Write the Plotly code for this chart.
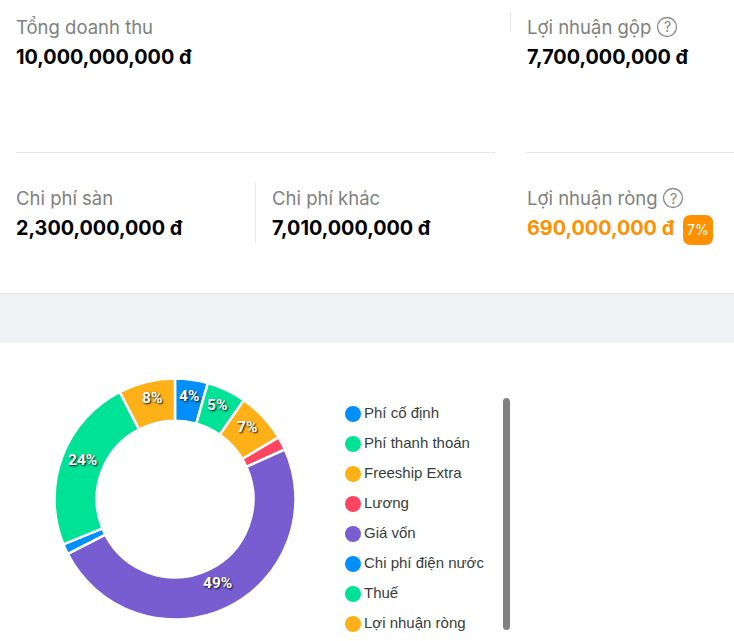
import math
import plotly.graph_objects as go

W, H = 734, 641

categories = ["Phí cố định", "Phí thanh thoán", "Freeship Extra", "Lương", "Giá vốn",
              "Chi phí điện nước", "Thuế", "Lợi nhuận ròng"]
values = [4.4, 5.3, 6.8, 1.8, 49.3, 1.4, 23.6, 7.6]
slice_labels = ["4%", "5%", "7%", "", "49%", "", "24%", "8%"]
colors = ["#008FFB", "#00E396", "#FEB019", "#FF4560", "#775DD0", "#008FFB", "#00E396", "#FEB019"]

kpi_titles = ["Tổng doanh thu", "Lợi nhuận gộp", "Chi phí sàn", "Chi phí khác", "Lợi nhuận ròng"]
kpi_values = ["10,000,000,000 đ", "7,700,000,000 đ", "2,300,000,000 đ", "7,010,000,000 đ", "690,000,000 đ"]
kpi_colors = ["#000000", "#000000", "#000000", "#000000", "#FF9100"]
kpi_x = [14, 525, 14, 270, 525]
kpi_title_y = [27, 27, 198, 198, 198]
kpi_value_y = [57, 57, 228, 228, 228]


def px(x):
    return x / W


def py(y):
    return 1 - y / H


def rounded(x0, y0, x1, y1, r):
    a, b, c, d = px(x0), py(y0), px(x1), py(y1)
    rx, ry = r / W, r / H
    return (f"M {a+rx} {b} L {c-rx} {b} Q {c} {b} {c} {b-ry} L {c} {d+ry} Q {c} {d} {c-rx} {d} "
            f"L {a+rx} {d} Q {a} {d} {a} {d+ry} L {a} {b-ry} Q {a} {b} {a+rx} {b} Z")


fig = go.Figure()

fig.add_trace(go.Pie(
    labels=categories, values=values, textinfo="none", sort=False,
    direction="clockwise", rotation=0, hole=0.65,
    marker=dict(colors=colors, line=dict(color="white", width=2.5)),
    domain=dict(x=[px(54.5), px(295.5)], y=[py(619.5), py(378.5)]),
    showlegend=False, hoverinfo="label+percent",
))

fig.add_trace(go.Scatter(
    x=[0] * len(categories), y=categories, mode="markers+text",
    text=categories, textposition="middle right",
    textfont=dict(family="Liberation Sans", size=15, color="#373D3F"),
    marker=dict(size=16, color=colors), cliponaxis=False,
    showlegend=False, hoverinfo="text", xaxis="x", yaxis="y",
))

shapes = [
    dict(type="rect", xref="paper", yref="paper", x0=0, x1=1, y0=py(343), y1=py(294),
         fillcolor="#F0F1F3", line_width=0, layer="below"),
    dict(type="line", xref="paper", yref="paper", x0=0, x1=1, y0=py(293.5), y1=py(293.5),
         line=dict(color="#E8E8E8", width=1)),
    dict(type="line", xref="paper", yref="paper", x0=px(16), x1=px(495), y0=py(152.5), y1=py(152.5),
         line=dict(color="#E6E6E6", width=1)),
    dict(type="line", xref="paper", yref="paper", x0=px(526), x1=1, y0=py(152.5), y1=py(152.5),
         line=dict(color="#E6E6E6", width=1)),
    dict(type="line", xref="paper", yref="paper", x0=px(510.5), x1=px(510.5), y0=py(12), y1=py(32),
         line=dict(color="#E6E6E6", width=1)),
    dict(type="line", xref="paper", yref="paper", x0=px(255.5), x1=px(255.5), y0=py(183), y1=py(243),
         line=dict(color="#E6E6E6", width=1)),
    dict(type="path", xref="paper", yref="paper", path=rounded(683, 215, 713, 245, 8),
         fillcolor="#FF9100", line_width=0),
    dict(type="path", xref="paper", yref="paper", path=rounded(503, 398, 510, 630, 3.5),
         fillcolor="#808080", line_width=0),
]
for cx, cy in [(667, 27), (673, 198)]:
    shapes.append(dict(type="circle", xref="paper", yref="paper",
                       x0=px(cx - 9.5), x1=px(cx + 9.5), y0=py(cy + 9.5), y1=py(cy - 9.5),
                       line=dict(color="#8A8A8A", width=1.3)))

annotations = []
for name, value, col, x, ty, vy in zip(kpi_titles, kpi_values, kpi_colors, kpi_x, kpi_title_y, kpi_value_y):
    annotations.append(dict(text=name, x=px(x), y=py(ty), xref="paper", yref="paper", xanchor="left",
                            yanchor="middle", showarrow=False,
                            font=dict(family="Inter", size=18.5, color="#808080")))
    annotations.append(dict(text=f"<b>{value}</b>", x=px(x - 0.5), y=py(vy), xref="paper", yref="paper",
                            xanchor="left", yanchor="middle", showarrow=False,
                            font=dict(family="Inter", size=19.8, color=col)))
for cx, cy in [(667, 27), (673, 198)]:
    annotations.append(dict(text="?", x=px(cx), y=py(cy), xref="paper", yref="paper", showarrow=False,
                            xanchor="center", yanchor="middle",
                            font=dict(family="Inter", size=14, color="#808080")))
annotations.append(dict(text="7%", x=px(698), y=py(229), xref="paper", yref="paper", showarrow=False,
                        xanchor="center", yanchor="middle",
                        font=dict(family="Inter", size=14, color="white")))

# Slice labels placed from the slice values, at the middle of the ring
total = sum(values)
running = 0.0
for value, label in zip(values, slice_labels):
    mid = (running + value / 2) / total * 2 * math.pi
    running += value
    if label:
        annotations.append(dict(
            text=f"<b>{label}</b>",
            x=px(175 + 99 * math.sin(mid)), y=py(499 - 99 * math.cos(mid) - 5),
            xref="paper", yref="paper", showarrow=False, xanchor="center", yanchor="middle",
            font=dict(family="Roboto", size=15.5, color="white",
                      shadow="1px 1px 2px rgba(0,0,0,0.95)")))

fig.update_layout(
    width=W, height=H, margin=dict(l=0, r=0, t=0, b=0),
    paper_bgcolor="white", plot_bgcolor="rgba(0,0,0,0)",
    shapes=shapes, annotations=annotations, showlegend=False,
    xaxis=dict(domain=[px(343), px(363)], range=[-1, 1], visible=False, fixedrange=True),
    yaxis=dict(domain=[py(639), py(399)], type="category", autorange=False, range=[7.5, -0.5],
               categoryorder="array", categoryarray=categories, visible=False, fixedrange=True),
)

fig.write_html("out.html", config={"displayModeBar": False},
               post_script="document.body.style.margin='0';document.body.style.overflow='hidden';")
